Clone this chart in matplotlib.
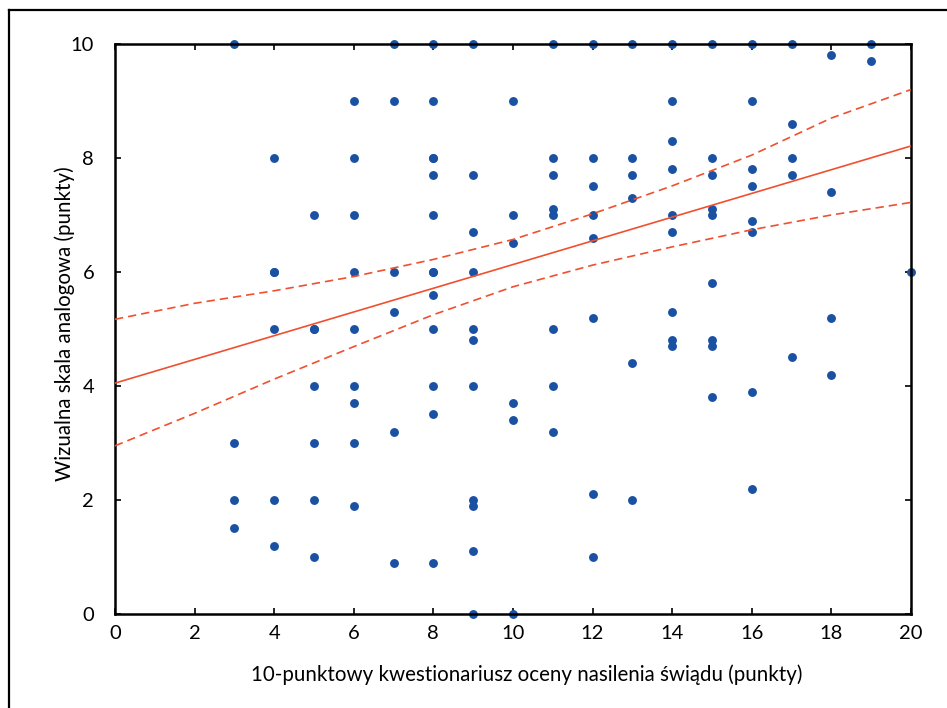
import matplotlib.pyplot as plt
from matplotlib.lines import Line2D

# --- data ---
# x: 10-point itch questionnaire score, y: VAS score
pts_x = [3, 3, 3, 3,
         4, 4, 4, 4, 4, 4,
         5, 5, 5, 5, 5, 5, 5,
         6, 6, 6, 6, 6, 6, 6, 6, 6,
         7, 7, 7, 7, 7, 7,
         8, 8, 8, 8, 8, 8, 8, 8, 8, 8, 8, 8, 8,
         9, 9, 9, 9, 9, 9, 9, 9, 9, 9, 9,
         10, 10, 10, 10, 10, 10,
         11, 11, 11, 11, 11, 11, 11, 11,
         12, 12, 12, 12, 12, 12, 12, 12,
         13, 13, 13, 13, 13, 13,
         14, 14, 14, 14, 14, 14, 14, 14, 14,
         15, 15, 15, 15, 15, 15, 15, 15, 15,
         16, 16, 16, 16, 16, 16, 16, 16,
         17, 17, 17, 17, 17,
         18, 18, 18, 18,
         19, 19,
         20]
pts_y = [10, 3, 2, 1.5,
         8, 6, 6, 5, 2, 1.2,
         7, 5, 5, 4, 3, 2, 1.0,
         9, 8, 7, 6, 5, 4, 3.7, 3, 1.9,
         10, 9, 6, 5.3, 3.2, 0.9,
         10, 9, 8, 8, 7.7, 7, 6, 6, 5.6, 5, 4, 3.5, 0.9,
         10, 7.7, 6.7, 6, 5, 4.8, 4, 2, 1.9, 1.1, 0,
         9, 7, 6.5, 3.7, 3.4, 0,
         10, 8, 7.7, 7.1, 7, 5, 4, 3.2,
         10, 8, 7.5, 7, 6.6, 5.2, 2.1, 1.0,
         10, 8, 7.7, 7.3, 4.4, 2,
         10, 9, 8.3, 7.8, 7, 6.7, 5.3, 4.8, 4.7,
         10, 8, 7.7, 7.1, 7, 5.8, 4.8, 4.7, 3.8,
         10, 9, 7.8, 7.5, 6.9, 6.7, 3.9, 2.2,
         10, 8.6, 8, 7.7, 4.5,
         9.8, 7.4, 5.2, 4.2,
         10, 9.7,
         6]

# regression line and 95% confidence band
fit_x = [0, 20]
fit_y = [4.05, 8.21]
band_x = [0, 2, 4, 6, 8, 10, 12, 14, 16, 18, 20]
band_upper = [5.17, 5.45, 5.67, 5.92, 6.22, 6.57, 7.02, 7.51, 8.05, 8.70, 9.20]
band_lower = [2.95, 3.52, 4.12, 4.69, 5.25, 5.74, 6.12, 6.44, 6.74, 7.00, 7.22]

xlabel = '10-punktowy kwestionariusz oceny nasilenia świądu (punkty)'
ylabel = 'Wizualna skala analogowa (punkty)'

plt.rcParams['font.family'] = ['Lato', 'DejaVu Sans']

fig = plt.figure(figsize=(9.47, 7.08), dpi=100)
fig.patch.set_facecolor('white')
ax = fig.add_axes([0.1214, 0.1328, 0.8405, 0.8051])

blue = '#1a51a3'
red = '#f0502f'

ax.plot(pts_x, pts_y, 'o', color=blue, markersize=6.4, markeredgewidth=0,
        clip_on=False, zorder=2)
ax.plot(fit_x, fit_y, '-', color=red, lw=1.2, zorder=3)
ax.plot(band_x, band_upper, '--', color=red, lw=1.2, dashes=(5, 3), zorder=3)
ax.plot(band_x, band_lower, '--', color=red, lw=1.2, dashes=(5, 3), zorder=3)

ax.set_xlim(0, 20)
ax.set_ylim(0, 10)
ax.set_xticks(range(0, 21, 2))
ax.set_yticks(range(0, 11, 2))
ax.tick_params(direction='in', length=4, width=1.2, labelsize=14.5,
               top=True, right=True)
ax.tick_params(axis='x', pad=8)
ax.tick_params(axis='y', pad=15)
for sp in ax.spines.values():
    sp.set_linewidth(1.8)
    sp.set_zorder(2.5)

ax.set_xlabel(xlabel, fontsize=14.8, labelpad=16)
ax.xaxis.label.set_x(0.517)
ax.set_ylabel(ylabel, fontsize=14.8, labelpad=-3)
ax.yaxis.label.set_y(0.51)

# outer frame (left and top edges visible)
fig.add_artist(Line2D([0.0095, 0.0095], [0, 0.9859], color='black', lw=1.6,
                      transform=fig.transFigure))
fig.add_artist(Line2D([0.0095, 1.0], [0.9859, 0.9859], color='black', lw=1.6,
                      transform=fig.transFigure))

plt.savefig('out.png', dpi=100, facecolor='white')
